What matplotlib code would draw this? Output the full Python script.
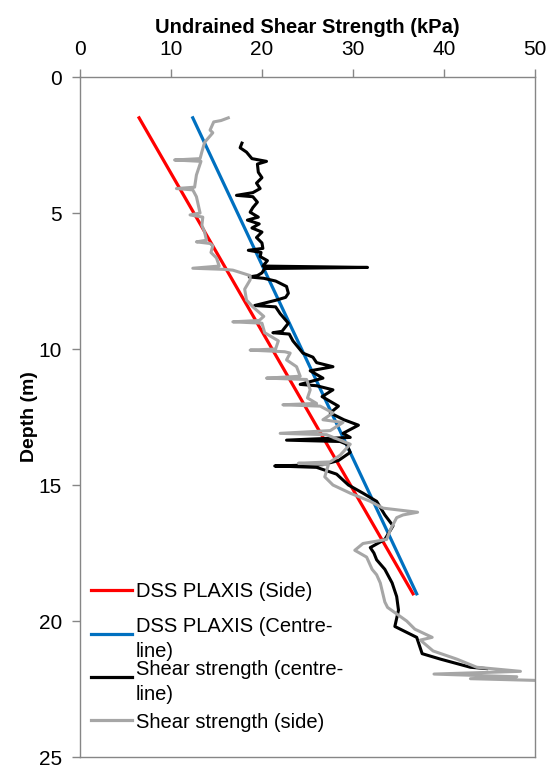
import matplotlib
matplotlib.use('Agg')
import matplotlib.pyplot as plt

plt.rcParams['font.family'] = ['Liberation Sans', 'DejaVu Sans']

# PLAXIS DSS lines (depth m, su kPa)
side_depth = [1.5, 19.0]
side_su = [6.5, 36.6]
centre_depth = [1.5, 19.0]
centre_su = [12.4, 37.0]

# measured profile, centre-line
cl_depth = [2.43, 2.6, 2.76, 3.0, 3.1, 3.2, 3.5, 3.7, 3.9, 4.1, 4.25, 4.35, 4.4, 4.6, 4.8,
            4.97, 5.15, 5.26, 5.4, 5.55, 5.7, 5.9, 6.1, 6.3, 6.37, 6.45, 6.6, 6.75, 6.95,
            7.0, 7.04, 7.2, 7.3, 7.35, 7.4, 7.5, 7.7, 7.95, 8.1, 8.2, 8.4, 8.45, 8.7, 9.05,
            9.35, 9.4, 9.45, 9.7, 10.15, 10.3, 10.5, 10.65, 10.8, 11.07, 11.3, 11.35, 11.5,
            11.75, 12.1, 12.35, 12.6, 12.8, 13.1, 13.25, 13.35, 13.4, 13.5, 13.8, 14.1,
            14.25, 14.3, 14.35, 14.6, 15.0, 15.3, 15.6, 16.1, 16.5, 17.0, 17.3, 17.5,
            17.75, 18.1, 18.6, 19.1, 19.6, 20.2, 20.6, 21.2, 21.4, 21.7, 21.75]
cl_su = [17.8, 17.6, 18.3, 18.9, 20.5, 19.5, 19.6, 20.0, 19.4, 19.8, 19.0, 17.2, 19.0, 19.5, 19.0,
         18.7, 19.6, 18.4, 19.7, 18.9, 20.0, 19.4, 20.0, 20.1, 18.5, 19.9, 19.8, 20.6, 20.1,
         31.6, 20.3, 20.0, 19.5, 18.6, 20.2, 21.5, 22.7, 22.9, 22.6, 21.6, 19.2, 21.5, 22.0, 22.9,
         22.2, 21.2, 23.0, 23.4, 24.5, 25.6, 26.0, 27.8, 25.3, 26.7, 24.2, 26.0, 27.8,
         26.6, 28.4, 27.5, 29.0, 30.6, 28.9, 29.7, 22.7, 28.6, 29.3, 29.7, 28.4,
         26.7, 21.4, 26.0, 28.2, 29.5, 31.1, 32.6, 33.5, 34.4, 33.5, 31.9, 32.3,
         32.6, 33.5, 34.3, 34.8, 35.0, 34.6, 37.0, 37.6, 39.6, 42.9, 44.7]

# measured profile, side
sd_depth = [1.5, 1.6, 1.65, 1.95, 2.05, 2.4, 2.75, 3.0, 3.05, 3.1, 3.4, 3.6, 4.05, 4.1, 4.15,
            4.4, 4.7, 5.0, 5.07, 5.15, 5.45, 5.7, 6.0, 6.06, 6.12, 6.2, 6.45, 6.65, 6.95,
            7.03, 7.07, 7.1, 7.3, 7.46, 7.8, 8.2, 8.45, 8.8, 8.95, 9.0, 9.05, 9.4, 9.7,
            10.0, 10.04, 10.1, 10.15, 10.4, 10.65, 11.0, 11.07, 11.12, 11.5, 11.8, 12.0,
            12.05, 12.1, 12.35, 12.6, 12.7, 13.0, 13.1, 13.15, 13.5, 13.9, 14.15, 14.2,
            14.25, 14.7, 15.0, 15.3, 15.6, 15.85, 16.0, 16.1, 16.2, 16.65, 17.0, 17.15,
            17.4, 17.65, 18.1, 18.3, 18.6, 19.3, 19.5, 20.0, 20.3, 20.6, 20.7, 21.1, 21.4,
            21.7, 21.85, 21.95, 22.05, 22.12, 22.2]
sd_su = [16.3, 15.5, 14.7, 14.3, 14.6, 13.7, 13.4, 13.2, 10.4, 13.3, 13.0, 12.8, 12.6, 10.6, 12.4,
         12.8, 13.0, 13.2, 12.1, 13.5, 13.4, 13.7, 13.9, 12.8, 14.3, 14.6, 14.4, 15.0, 15.3,
         12.4, 15.8, 16.8, 18.7, 18.7, 18.1, 18.3, 19.0, 20.2, 19.7, 16.8, 20.0, 20.3, 21.8,
         21.5, 18.7, 22.5, 23.1, 22.7, 23.8, 24.2, 20.5, 24.9, 25.3, 25.0, 26.0,
         22.3, 26.4, 27.8, 26.7, 28.9, 27.5, 22.0, 27.1, 29.7, 28.6, 27.5, 24.0,
         27.3, 26.9, 27.8, 29.7, 31.9, 33.3, 37.1, 35.5, 34.8, 34.1, 33.7, 31.1,
         30.2, 31.5, 32.1, 32.6, 33.0, 33.5, 33.8, 35.9, 36.8, 38.7, 37.4, 38.8, 41.4,
         43.6, 48.4, 38.9, 48.0, 42.9, 52.0]

labels = ['DSS PLAXIS (Side)', 'DSS PLAXIS (Centre-\nline)',
          'Shear strength (centre-\nline)', 'Shear strength (side)']
colors = ['#FF0000', '#0070C0', '#000000', '#A6A6A6']

fig = plt.figure(figsize=(5.55, 7.68), dpi=100)
ax = fig.add_axes([0.144, 0.0143, 0.82, 0.8854])

ax.plot(side_su, side_depth, color=colors[0], lw=2.3)
ax.plot(centre_su, centre_depth, color=colors[1], lw=2.3)
ax.plot(cl_su, cl_depth, color=colors[2], lw=2.2)
ax.plot(sd_su, sd_depth, color=colors[3], lw=2.2)

ax.set_xlim(0, 50)
ax.set_ylim(25, 0)
ax.set_xticks(range(0, 51, 10))
ax.set_yticks(range(0, 26, 5))
ax.xaxis.tick_top()
ax.xaxis.set_label_position('top')
ax.set_xlabel('Undrained Shear Strength (kPa)', fontsize=14.5, fontweight='bold', labelpad=5)
ax.set_ylabel('Depth (m)', fontsize=14, fontweight='bold', labelpad=0)
ax.tick_params(axis='both', direction='out', length=6, width=1, color='#868686',
               labelsize=15, pad=7)
for sp in ax.spines.values():
    sp.set_color('#868686')
    sp.set_linewidth(1)

# legend drawn Excel-style: fixed row height, wrapped text overflows
leg_y = [0.246, 0.181, 0.118, 0.054]
for lab, c, y in zip(labels, colors, leg_y):
    ax.plot([0.024, 0.114], [y, y], color=c, lw=2.3, transform=ax.transAxes, clip_on=False)
    ax.text(0.123, y, lab, transform=ax.transAxes, fontsize=14.5, va='center_baseline',
            ha='left', linespacing=1.4)

fig.savefig('out.png', dpi=100)
